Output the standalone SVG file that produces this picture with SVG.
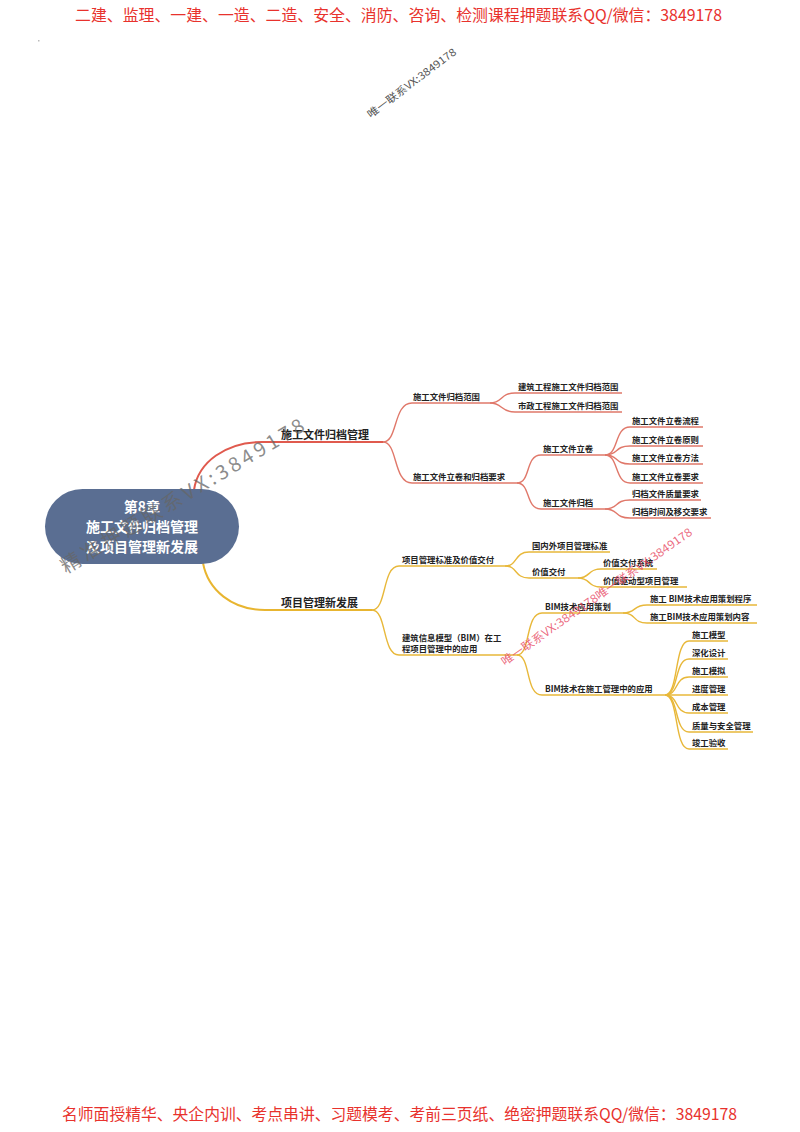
<svg xmlns="http://www.w3.org/2000/svg" width="800" height="1132" viewBox="0 0 800 1132">
<style>
.hdr{font-family:"Noto Sans CJK SC","Liberation Sans",sans-serif;font-size:16px;fill:#e8322d;}
.t{font-family:"Noto Sans CJK SC","Liberation Sans",sans-serif;fill:#222;font-weight:bold;}
.l1{font-size:11px;}
.l2{font-size:8.4px;}
.ctr{font-family:"Noto Sans CJK SC","Liberation Sans",sans-serif;font-size:14px;font-weight:bold;fill:#fff;text-anchor:middle;}
.r{fill:none;stroke:#e0786a;stroke-width:1.4;}
.rm{fill:none;stroke:#e05a4e;stroke-width:2;}
.y{fill:none;stroke:#e8b83a;stroke-width:1.4;}
.ym{fill:none;stroke:#e8b530;stroke-width:2;}
.wm{font-family:"Noto Sans CJK SC","Liberation Sans",sans-serif;}
</style>
<rect width="800" height="1132" fill="#fff"/>
<text class="hdr" x="75" y="21" textLength="647" lengthAdjust="spacingAndGlyphs">二建、监理、一建、一造、二造、安全、消防、咨询、检测课程押题联系QQ/微信：3849178</text>
<rect x="38" y="40" width="1.5" height="1.5" fill="#bbb"/>
<text class="wm" x="0" y="0" font-size="10.5" fill="#555" text-anchor="middle" textLength="108" lengthAdjust="spacingAndGlyphs" transform="translate(414,86) rotate(-37)">唯一联系VX:3849178</text>

<g id="connectors">
<path class="rm" d="M194,490 C198,462 226,442 262,442 H383"/>
<path class="r" d="M383,442 C398,442 393,403 412,403 H490"/>
<path class="r" d="M383,442 C398,442 393,483 412,483 H517"/>
<path class="r" d="M490,403 C503,403 500,393 515,393 H622"/>
<path class="r" d="M490,403 C503,403 500,412 515,412 H622"/>
<path class="r" d="M517,483 C531,483 525,455 541,455 H605"/>
<path class="r" d="M517,483 C531,483 525,509 541,509 H605"/>
<path class="r" d="M605,455 C619,455 614,427 630,427 H703"/>
<path class="r" d="M605,455 C619,455 614,446 630,446 H703"/>
<path class="r" d="M605,455 C619,455 614,464 630,464 H703"/>
<path class="r" d="M605,455 C619,455 614,483 630,483 H703"/>
<path class="r" d="M605,509 C619,509 614,500 630,500 H701"/>
<path class="r" d="M605,509 C619,509 614,518 630,518 H711"/>

<path class="ym" d="M203,563 C208,590 232,610 265,610 H372"/>
<path class="y" d="M372,610 C387,610 382,566 399,566 H505"/>
<path class="y" d="M372,610 C387,610 382,655 399,655 H517"/>
<path class="y" d="M505,566 C518,566 514,552 529,552 H610"/>
<path class="y" d="M505,566 C518,566 514,578 529,578 H578"/>
<path class="y" d="M578,578 C591,578 587,569 601,569 H657"/>
<path class="y" d="M578,578 C591,578 587,587 601,587 H687"/>
<path class="y" d="M517,655 C531,655 525,613 542,613 H623"/>
<path class="y" d="M517,655 C531,655 525,695 542,695 H665"/>
<path class="y" d="M623,613 C637,613 632,605 647,605 H757"/>
<path class="y" d="M623,613 C637,613 632,623 647,623 H757"/>
<path class="y" d="M665,695 C679,695 674,641 689,641 H728"/>
<path class="y" d="M665,695 C679,695 674,659 689,659 H728"/>
<path class="y" d="M665,695 C679,695 674,677 689,677 H728"/>
<path class="y" d="M665,695 C679,695 674,695 689,695 H728"/>
<path class="y" d="M665,695 C679,695 674,713 689,713 H728"/>
<path class="y" d="M665,695 C679,695 674,732 689,732 H753"/>
<path class="y" d="M665,695 C679,695 674,749 689,749 H728"/>
</g>

<g id="root">
<rect x="45" y="489" width="194" height="75" rx="37.5" fill="#5a6e92"/>
<text class="ctr" x="142" y="512">第8章</text>
<text class="ctr" x="142" y="532">施工文件归档管理</text>
<text class="ctr" x="142" y="552">及项目管理新发展</text>
</g>

<g id="n-archive"><text class="t l1" x="281" y="439">施工文件归档管理</text></g>
<g id="n-scope"><text class="t l2" x="413" y="400">施工文件归档范围</text></g>
<g id="n-scope1"><text class="t l2" x="518" y="390">建筑工程施工文件归档范围</text></g>
<g id="n-scope2"><text class="t l2" x="518" y="409">市政工程施工文件归档范围</text></g>
<g id="n-req"><text class="t l2" x="413" y="480">施工文件立卷和归档要求</text></g>
<g id="n-vol"><text class="t l2" x="543" y="452">施工文件立卷</text></g>
<g id="n-vol1"><text class="t l2" x="632" y="424">施工文件立卷流程</text></g>
<g id="n-vol2"><text class="t l2" x="632" y="443">施工文件立卷原则</text></g>
<g id="n-vol3"><text class="t l2" x="632" y="461">施工文件立卷方法</text></g>
<g id="n-vol4"><text class="t l2" x="632" y="480">施工文件立卷要求</text></g>
<g id="n-arc"><text class="t l2" x="543" y="506">施工文件归档</text></g>
<g id="n-arc1"><text class="t l2" x="632" y="497">归档文件质量要求</text></g>
<g id="n-arc2"><text class="t l2" x="632" y="515">归档时间及移交要求</text></g>

<g id="n-pm"><text class="t l1" x="281" y="607">项目管理新发展</text></g>
<g id="n-std"><text class="t l2" x="402" y="563">项目管理标准及价值交付</text></g>
<g id="n-std1"><text class="t l2" x="532" y="549">国内外项目管理标准</text></g>
<g id="n-val"><text class="t l2" x="532" y="575">价值交付</text></g>
<g id="n-val1"><text class="t l2" x="603" y="566">价值交付系统</text></g>
<g id="n-val2"><text class="t l2" x="603" y="584">价值驱动型项目管理</text></g>
<g id="n-bim"><text class="t l2" x="402" y="641">建筑信息模型（BIM）在工</text><text class="t l2" x="402" y="652">程项目管理中的应用</text></g>
<g id="n-plan"><text class="t l2" x="545" y="610">BIM技术应用策划</text></g>
<g id="n-plan1"><text class="t l2" x="650" y="602">施工 BIM技术应用策划程序</text></g>
<g id="n-plan2"><text class="t l2" x="650" y="620">施工BIM技术应用策划内容</text></g>
<g id="n-use"><text class="t l2" x="545" y="692">BIM技术在施工管理中的应用</text></g>
<g id="n-use1"><text class="t l2" x="692" y="638">施工模型</text></g>
<g id="n-use2"><text class="t l2" x="692" y="656">深化设计</text></g>
<g id="n-use3"><text class="t l2" x="692" y="674">施工模拟</text></g>
<g id="n-use4"><text class="t l2" x="692" y="692">进度管理</text></g>
<g id="n-use5"><text class="t l2" x="692" y="710">成本管理</text></g>
<g id="n-use6"><text class="t l2" x="692" y="729">质量与安全管理</text></g>
<g id="n-use7"><text class="t l2" x="692" y="746">竣工验收</text></g>

<text class="wm" x="0" y="0" font-size="20" fill="#666" fill-opacity="0.75" textLength="280" lengthAdjust="spacing" transform="translate(66,574) rotate(-31)">精准押题联系VX:3849178</text>
<text class="wm" x="0" y="0" font-size="11.5" fill="#e8506a" fill-opacity="0.85" text-anchor="middle" textLength="230" lengthAdjust="spacingAndGlyphs" transform="translate(599,600) rotate(-35)">唯一联系VX:3849178唯一联系VX:3849178</text>

<text class="hdr" x="62" y="1120" textLength="675" lengthAdjust="spacingAndGlyphs">名师面授精华、央企内训、考点串讲、习题模考、考前三页纸、绝密押题联系QQ/微信：3849178</text>
</svg>
